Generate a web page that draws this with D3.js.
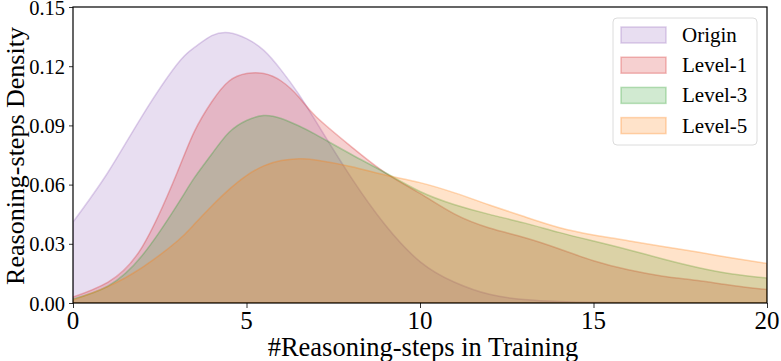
<!DOCTYPE html>
<html><head><meta charset="UTF-8"><script src="https://d3js.org/d3.v7.min.js"></script></head>
<body style="margin:0">
<script>
    // x grid the densities were read at
    const steps = [0, 1, 2, 3, 3.5, 4, 4.5, 5, 5.5, 6, 6.5, 7, 8, 9, 10, 11, 12, 13, 14, 15, 16, 17, 18, 19, 20]

    const origin = [0.041, 0.066, 0.095, 0.121, 0.1295, 0.1355, 0.137, 0.134, 0.128, 0.118, 0.106, 0.092, 0.064,
        0.0395, 0.021, 0.0105, 0.0044, 0.0018, 0.0008, 0.0004, 0.0002, 0.0001, 0, 0, 0]
    const level1 = [0.003, 0.0105, 0.0286, 0.066, 0.087, 0.102, 0.1125, 0.1163, 0.1163, 0.1125, 0.1045, 0.0945, 0.0795,
        0.066, 0.0555, 0.045, 0.038, 0.0332, 0.0275, 0.0214, 0.0168, 0.0136, 0.0114, 0.0089, 0.0068]
    const level3 = [0.002, 0.0085, 0.0242, 0.0496, 0.0635, 0.0755, 0.0865, 0.0925, 0.095, 0.0935, 0.0898, 0.0853, 0.0755,
        0.066, 0.0565, 0.0498, 0.0449, 0.0406, 0.0358, 0.0314, 0.027, 0.0223, 0.018, 0.0147, 0.0127]
    const level5 = [0.0015, 0.0083, 0.0181, 0.0313, 0.04, 0.0492, 0.0576, 0.0646, 0.0695, 0.0722, 0.0731, 0.0725, 0.0692,
        0.0649, 0.061, 0.0558, 0.0497, 0.0438, 0.0383, 0.0345, 0.0316, 0.0286, 0.0258, 0.0228, 0.020]

    const seriesNames = ['Origin', 'Level-1', 'Level-3', 'Level-5']
    const seriesColors = ['#9467bd', '#d62728', '#2ca02c', '#ff7f0e']
    const xTicks = [0, 5, 10, 15, 20]
    const yTicks = [0, 0.03, 0.06, 0.09, 0.12, 0.15]

    const width = 781, height = 361
    const margin = { top: 7, right: 14, bottom: 58, left: 73 }
    const w = width - margin.left - margin.right
    const h = height - margin.top - margin.bottom

    const svg = d3.select('body').append('svg')
        .attr('width', width)
        .attr('height', height)

    const g = svg.append('g')
        .attr('transform', `translate(${margin.left},${margin.top})`)

    const x = d3.scaleLinear().domain([0, 20]).range([0, w])
    const y = d3.scaleLinear().domain([0, 0.15]).range([h, 0])

    const area = d3.area()
        .x(d => x(d[0]))
        .y0(y(0))
        .y1(d => y(d[1]))
        .curve(d3.curveNatural)

    g.append('clipPath').attr('id', 'plot')
        .append('rect').attr('width', w).attr('height', h)

    const allSeries = [origin, level1, level3, level5]
    allSeries.forEach((vals, i) => {
        const pts = steps.map((s, j) => [s, vals[j]])
        g.append('path')
            .attr('d', area(pts))
            .attr('clip-path', 'url(#plot)')
            .attr('fill', seriesColors[i])
            .attr('fill-opacity', 0.22)
            .attr('stroke', seriesColors[i])
            .attr('stroke-opacity', 0.3)
            .attr('stroke-width', 1.5)
    })

    // axes, labels are re-made as plain serif texts
    const yAxis = g.append('g')
        .call(d3.axisLeft(y).tickValues(yTicks).tickSize(4).tickFormat(''))
    yAxis.select('.domain').remove()
    yAxis.selectAll('.tick line').attr('stroke', '#333')
    yTicks.forEach(t => {
        g.append('text')
            .attr('x', -8).attr('y', y(t) + 7.5)
            .attr('text-anchor', 'end')
            .attr('font-family', 'Liberation Serif')
            .attr('font-size', 20.5)
            .text(d3.format('.2f')(t))
    })

    const xAxis = g.append('g')
        .attr('transform', `translate(0,${h})`)
        .call(d3.axisBottom(x).tickValues(xTicks).tickSize(5).tickFormat(''))
    xAxis.select('.domain').remove()
    xAxis.selectAll('.tick line').attr('stroke', '#333')
    xTicks.forEach(t => {
        g.append('text')
            .attr('x', x(t)).attr('y', h + 25.5)
            .attr('text-anchor', 'middle')
            .attr('font-family', 'Liberation Serif')
            .attr('font-size', 25)
            .text(t)
    })

    g.append('rect')
        .attr('width', w).attr('height', h)
        .attr('fill', 'none').attr('stroke', '#000').attr('stroke-width', 1.2)

    // axis titles
    svg.append('text')
        .attr('x', margin.left + w / 2 + 3)
        .attr('y', 356)
        .attr('text-anchor', 'middle')
        .attr('font-family', 'Liberation Serif')
        .attr('font-size', 26.5)
        .text('#Reasoning-steps in Training')

    svg.append('text')
        .attr('transform', `translate(23.5,${margin.top + h / 2 + 1}) rotate(-90)`)
        .attr('text-anchor', 'middle')
        .attr('font-family', 'Liberation Serif')
        .attr('font-size', 26)
        .text('Reasoning-steps Density')

    // legend
    const legend = svg.append('g').attr('transform', 'translate(613,18)')
    legend.append('rect')
        .attr('width', 144).attr('height', 127).attr('rx', 4)
        .attr('fill', 'white').attr('fill-opacity', 0.8)
        .attr('stroke', '#dcdcdc').attr('stroke-width', 1)

    seriesNames.forEach((name, i) => {
        const row = legend.append('g').attr('transform', `translate(0,${17 + i * 30.2})`)
        row.append('rect')
            .attr('x', 8).attr('y', -8).attr('width', 45).attr('height', 16)
            .attr('fill', seriesColors[i]).attr('fill-opacity', 0.22)
            .attr('stroke', seriesColors[i]).attr('stroke-opacity', 0.3).attr('stroke-width', 1.5)
        row.append('text')
            .attr('x', 69).attr('y', 7)
            .attr('font-family', 'Liberation Serif')
            .attr('font-size', 21)
            .text(name)
    })
</script>
</body>
</html>
